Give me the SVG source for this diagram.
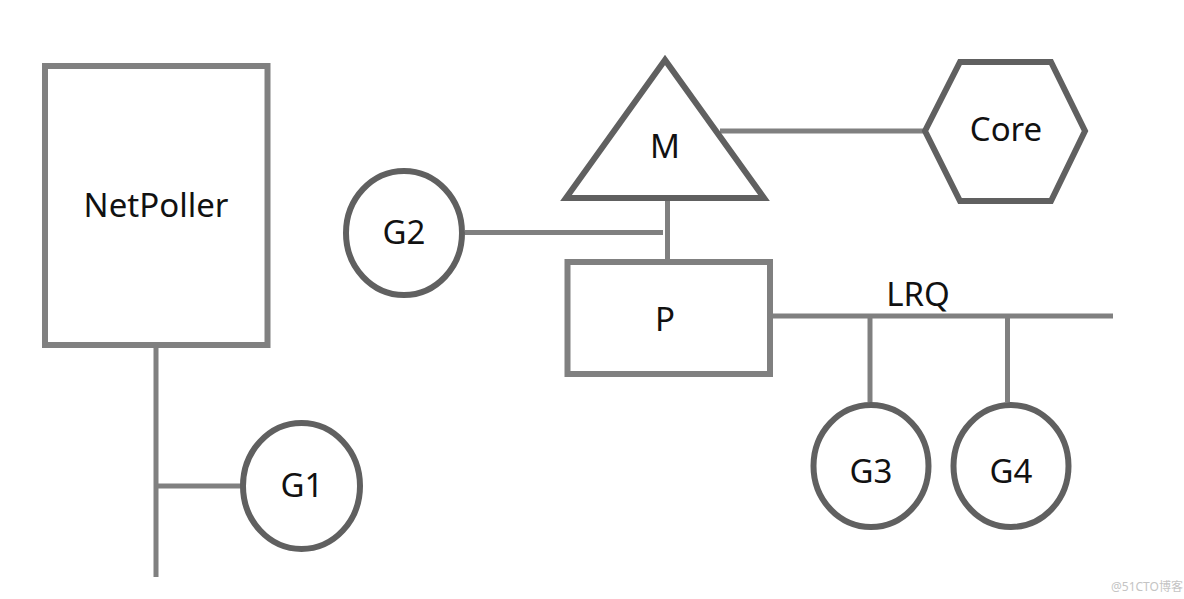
<svg xmlns="http://www.w3.org/2000/svg" width="1184" height="599" viewBox="0 0 1184 599">
<style>
.conn{stroke:#808080;stroke-width:5;fill:none}
.box{stroke:#808080;stroke-width:6;fill:#fff}
.shape{stroke:#606060;stroke-width:6;fill:#fff}
.lbl{font-family:"Noto Sans","Liberation Sans",sans-serif;font-size:33px;fill:#111;text-anchor:middle}
.wm{font-family:"Noto Sans","Noto Sans CJK SC",sans-serif;font-size:12px;fill:#c4c4c4}
</style>
<rect width="1184" height="599" fill="#fff"/>
<g id="connectors">
<line class="conn" x1="156" y1="348" x2="156" y2="577"/>
<line class="conn" x1="156" y1="486" x2="243" y2="486"/>
<line class="conn" x1="465" y1="232.5" x2="663" y2="232.5"/>
<line class="conn" x1="667.5" y1="201" x2="667.5" y2="260"/>
<line class="conn" x1="720" y1="131" x2="924" y2="131"/>
<line class="conn" x1="770" y1="316" x2="1113" y2="316"/>
<line class="conn" x1="870" y1="316" x2="870" y2="402"/>
<line class="conn" x1="1007.5" y1="316" x2="1007.5" y2="402"/>
</g>
<g id="netpoller">
<rect class="box" x="45" y="66" width="222.5" height="279"/>
<text class="lbl" x="156" y="217">NetPoller</text>
</g>
<g id="g1">
<ellipse class="shape" cx="301.5" cy="486" rx="58.5" ry="63"/>
<text class="lbl" x="302" y="497">G1</text>
</g>
<g id="g2">
<ellipse class="shape" cx="404" cy="233" rx="58" ry="62"/>
<text class="lbl" x="404" y="244">G2</text>
</g>
<g id="m">
<polygon class="shape" points="665,60 566,198 764,198"/>
<text class="lbl" x="665" y="158">M</text>
</g>
<g id="p">
<rect class="box" x="567.5" y="262" width="202.5" height="112"/>
<text class="lbl" x="665" y="331">P</text>
</g>
<g id="core">
<polygon class="shape" points="960,62 1051,62 1085,131 1051,201 960,201 925,131"/>
<text class="lbl" x="1006" y="141">Core</text>
</g>
<g id="lrq">
<text class="lbl" x="918" y="306">LRQ</text>
</g>
<g id="g3">
<ellipse class="shape" cx="871" cy="466" rx="57.5" ry="61"/>
<text class="lbl" x="871" y="483">G3</text>
</g>
<g id="g4">
<ellipse class="shape" cx="1011" cy="466" rx="57.5" ry="61"/>
<text class="lbl" x="1011" y="483">G4</text>
</g>
<text class="wm" x="1111" y="591">@51CTO博客</text>
</svg>
